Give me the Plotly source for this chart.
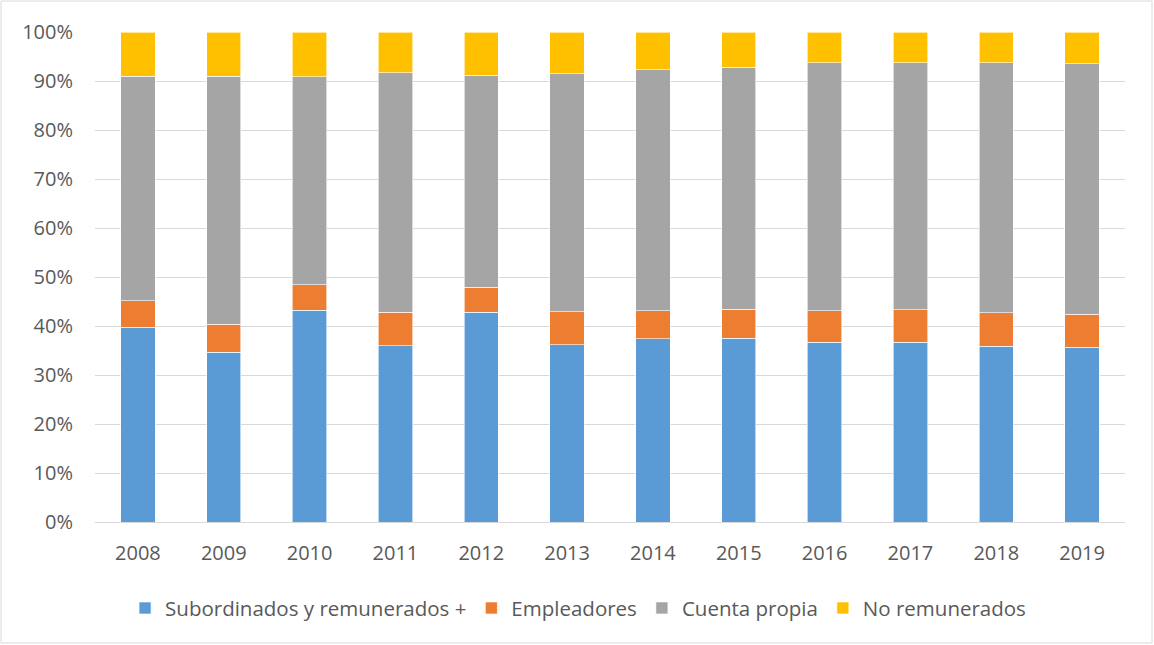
import plotly.graph_objects as go

years = ["2008", "2009", "2010", "2011", "2012", "2013",
         "2014", "2015", "2016", "2017", "2018", "2019"]
subordinados = [39.7, 34.6, 43.2, 36.0, 42.8, 36.2, 37.4, 37.5, 36.7, 36.7, 35.9, 35.7]
empleadores = [5.5, 5.8, 5.2, 6.8, 5.1, 6.7, 5.7, 5.9, 6.4, 6.6, 6.8, 6.7]
cuenta_propia = [45.8, 50.6, 42.5, 48.9, 43.3, 48.6, 49.2, 49.4, 50.6, 50.4, 51.0, 51.1]
no_remunerados = [9.0, 9.0, 9.1, 8.3, 8.8, 8.5, 7.7, 7.2, 6.3, 6.3, 6.3, 6.5]

series = [
    ("Subordinados y remunerados +", subordinados, "#5B9BD5"),
    ("Empleadores", empleadores, "#ED7D31"),
    ("Cuenta propia", cuenta_propia, "#A5A5A5"),
    ("No remunerados", no_remunerados, "#FFC000"),
]

fig = go.Figure()
for name, vals, color in series:
    fig.add_trace(go.Bar(
        x=years,
        y=vals,
        name=name,
        marker=dict(color=color, line=dict(color="white", width=0.6)),
        hovertemplate=f"{name}<br>%{{x}}: %{{y:.1f}}%<extra></extra>",
    ))

W, H = 1154, 645
ml, mr, mt, mb = 95, 29, 32, 123
pw, ph = W - ml - mr, H - mt - mb

fig.update_layout(
    width=W,
    height=H,
    barmode="stack",
    bargap=0.6,
    margin=dict(l=ml, r=mr, t=mt, b=mb),
    paper_bgcolor="white",
    plot_bgcolor="white",
    font=dict(family="Open Sans, sans-serif", size=20, color="#595959"),
    legend=dict(
        orientation="h",
        x=0.469,
        xanchor="center",
        y=-0.135,
        yanchor="top",
        font=dict(size=20.5, color="#595959"),
        itemwidth=30,
        traceorder="normal",
    ),
    shapes=[dict(
        type="rect", xref="paper", yref="paper",
        x0=(1 - ml) / pw, x1=(W - 2 - ml) / pw,
        y0=-(H - 2 - mt - ph) / ph, y1=1 + (mt - 1) / ph,
        line=dict(color="#D9D9D9", width=1),
    )],
)
fig.update_yaxes(
    range=[0, 100],
    dtick=10,
    ticksuffix="%",
    showgrid=True,
    gridcolor="#D9D9D9",
    gridwidth=1,
    zeroline=False,
    ticks="",
    ticklabelstandoff=21,
)
fig.update_xaxes(
    showline=True,
    linecolor="#D9D9D9",
    linewidth=1,
    ticks="",
    ticklabelstandoff=13,
)

# página sin margen para que el gráfico empiece en (0, 0)
fig.write_html(
    "out.html",
    config={"displayModeBar": False},
    post_script="document.body.style.margin='0';",
)
